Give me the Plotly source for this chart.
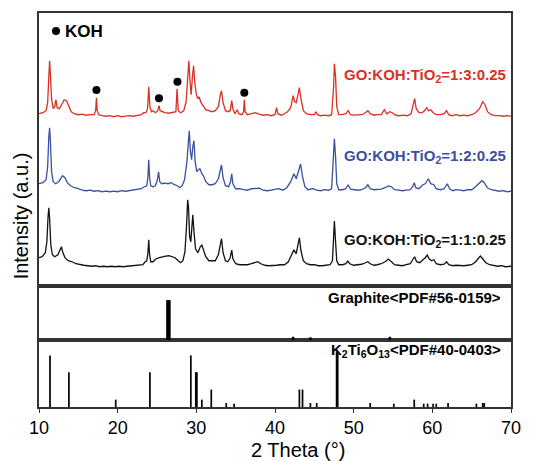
import plotly.graph_objects as go

# ---------------- data ----------------
red_x = [10.0,10.5,10.9,11.1,11.25,11.35,11.45,11.6,11.8,12.0,12.15,12.3,12.6,12.9,13.2,13.5,13.8,14.1,14.5,15.0,15.5,16.0,16.5,17.0,17.2,17.3,17.4,17.6,18.0,18.5,19.0,19.5,20.0,20.5,21.0,21.5,22.0,22.5,23.0,23.3,23.6,23.8,23.95,24.1,24.3,24.5,24.8,25.1,25.25,25.4,25.7,26.0,26.5,27.0,27.4,27.55,27.7,28.0,28.4,28.7,28.95,29.05,29.2,29.35,29.5,29.65,29.8,30.0,30.2,30.35,30.6,30.9,31.2,31.6,32.0,32.4,32.8,33.05,33.2,33.4,33.7,34.0,34.3,34.5,34.65,34.9,35.2,35.4,35.8,36.0,36.1,36.2,36.5,37.0,37.5,38.0,38.5,39.0,39.5,40.0,40.2,40.35,40.8,41.2,41.6,42.0,42.3,42.5,42.7,43.0,43.1,43.3,43.6,44.0,44.5,45.0,45.2,45.4,45.8,46.3,46.8,47.2,47.45,47.55,47.7,47.85,48.1,48.5,49.0,49.3,49.6,50.0,50.5,51.0,51.5,51.8,52.1,52.6,53.0,53.5,53.9,54.2,54.6,54.9,55.3,55.8,56.3,56.8,57.3,57.6,57.75,57.95,58.3,58.7,59.0,59.3,59.5,59.8,60.1,60.5,61.0,61.5,61.8,62.1,62.5,63.0,63.5,64.0,64.5,65.0,65.5,66.0,66.4,66.7,67.0,67.5,68.0,68.5,69.0,69.5,70.0]
red_y = [3,4,6,14,40,56,42,18,8,10,17,9,8,13,17,16,10,5,3,2,2.5,1.5,2,2,6,19,6,2,1,0.5,1,0,1,0,0.5,1,0.5,1.5,2,4,4,8,30,10,5,6,4,6,11,6,5,4,3.5,4,5,28,6,4,6,15,45,56,35,22,40,51,35,22,18,20,14,10,7,6,5,6,10,22,26,14,6,5,6,16,8,3,7,3,2,5,17,5,2,3,4,2.5,1.5,2,1,2,9,3,1.5,3,5,9,21,15,14,25,29,18,6,3,2,2,5,2,1,1.5,1,2,30,53,40,10,2,2,3,6,2,1.5,2,2,4,6,3,1.5,2,2,7,3,5,4,1.5,1,1.5,1,3,12,18,8,4,4,6,9,6,7,4,2,2,3,6,2,1,2,1,1.5,1,2,4,8,15,12,5,2,1,1,0.5,1,0.5]

blue_x = [10.0,10.5,10.9,11.1,11.25,11.35,11.45,11.6,11.8,12.1,12.5,12.8,13.0,13.3,13.6,14.0,14.5,15.0,15.5,16.0,16.5,17.0,17.5,18.0,18.5,19.0,19.5,20.0,20.5,21.0,21.5,22.0,22.5,23.0,23.4,23.7,23.85,23.95,24.05,24.2,24.5,24.8,25.05,25.2,25.35,25.6,26.0,26.4,26.8,27.2,27.6,27.9,28.2,28.5,28.8,29.0,29.1,29.25,29.4,29.55,29.7,29.85,30.05,30.25,30.45,30.7,30.9,31.2,31.6,32.0,32.4,32.8,33.05,33.2,33.4,33.7,34.1,34.35,34.5,34.65,35.0,35.5,36.0,36.5,37.0,37.5,38.0,38.5,39.0,39.5,40.0,40.5,41.0,41.5,42.0,42.4,42.7,43.05,43.25,43.5,43.8,44.2,44.8,45.3,45.8,46.3,46.8,47.2,47.45,47.55,47.7,47.85,48.1,48.6,49.0,49.3,49.6,50.0,50.5,51.0,51.5,51.8,52.1,52.6,53.0,53.5,54.0,54.4,54.8,55.2,55.7,56.2,56.7,57.2,57.5,57.7,57.9,58.3,58.8,59.1,59.5,59.8,60.2,60.5,61.0,61.5,61.9,62.2,62.6,63.0,63.5,64.0,64.5,65.0,65.5,66.0,66.3,66.6,67.0,67.5,68.0,68.5,69.0,69.5,70.0]
blue_y = [8,9,12,25,55,64,50,20,10,8,10,14,16,14,9,6,4,3,1.5,1,1.5,0.5,1,0,0.5,0,0.5,0,1,0.5,1,1.5,2,3,5,6,15,32,15,6,5,6,12,20,10,8,8.5,8,9,7,6,4,6,12,30,55,61,40,32,45,51,30,20,22,23,18,16,10,7,7,8,13,24,26.7,14,6,5,10,18,8,3,3,2,1.5,3,3,3.5,1.5,1,1.5,2,3,1.5,4,10,18,13,23,27.7,15,5,2,3,1.5,1,2,1.5,3,35,53,35,8,2,2,3,7,2.5,2,1.5,2,4,7,3,2,2,2.5,4,5.7,5,2,1.5,1,1.5,2,5,9,4,3,7,8,13,8,7,3,2,3,8,3,1,2,1.5,1,2,2,5,9,11,9,4,2,1,0.5,1,0,0.5]

black_x = [10.0,10.4,10.8,11.0,11.15,11.25,11.35,11.5,11.7,12.0,12.4,12.7,12.85,13.0,13.3,13.7,14.2,14.7,15.2,15.7,16.2,16.7,17.2,17.7,18.2,18.7,19.2,19.7,20.2,20.7,21.2,21.7,22.2,22.7,23.2,23.5,23.7,23.85,23.95,24.05,24.2,24.5,24.9,25.3,25.7,26.1,26.5,26.9,27.3,27.7,28.0,28.3,28.55,28.75,28.9,29.0,29.15,29.3,29.45,29.55,29.7,29.9,30.2,30.5,30.7,30.9,31.2,31.6,32.0,32.4,32.8,33.05,33.2,33.4,33.7,34.0,34.3,34.5,34.65,35.0,35.5,36.0,36.5,37.0,37.5,37.8,38.2,38.7,39.2,39.7,40.2,40.7,41.2,41.7,42.1,42.4,42.7,42.95,43.1,43.3,43.6,44.0,44.5,45.0,45.5,46.0,46.5,47.0,47.3,47.45,47.55,47.7,47.85,48.1,48.6,49.0,49.25,49.5,50.0,50.5,51.0,51.5,51.8,52.1,52.6,53.0,53.5,54.0,54.4,54.8,55.2,55.7,56.2,56.7,57.2,57.5,57.75,58.0,58.4,58.8,59.1,59.35,59.6,59.9,60.2,60.5,61.0,61.5,61.8,62.1,62.6,63.0,63.5,64.0,64.5,65.0,65.5,65.9,66.1,66.4,66.8,67.3,67.8,68.3,68.8,69.3,70.0]
black_y = [9,10,14,25,50,59,48,22,12,10,12,18,20,15,9,6,5,3,2,1.5,1,0.5,1,0,0.5,0,0.5,0,0.5,0,0.5,1,1,1.5,2,5,6,14,27,13,5,5,8,9,10,10.7,11,10,9,6,4,6,15,40,67,60,30,25,48,52,35,18,14,20,21.7,17,10,6,6,6,12,24,28,14,6,5,9,16.7,8,3,2,2,2,3,4.5,5,3,1.5,1,1,1.5,2,2,5,12,17,13,25,29,16,6,3,2,2,1,1,1.5,2,6,35,45.7,25,6,2,2,3,5.7,3,1.5,2,2.5,4,5,3,1.5,2,3,5,7.7,5,2,1.5,1,2,3,7,10,5,4,7,9,11.7,8,6,7,3,2,2.5,5,2,1,1.5,1,1,1.5,2,5,9,10.7,8,4,2,1,0.5,1,0,0.5]

series_names = ["GO:KOH:TiO<sub>2</sub>=1:3:0.25", "GO:KOH:TiO<sub>2</sub>=1:2:0.25", "GO:KOH:TiO<sub>2</sub>=1:1:0.25"]
series_offset = [169.3, 94.3, 19.3]

koh_x = [17.3, 25.25, 27.6, 36.1]
koh_y = [196, 187.7, 204.3, 193.3]

graphite_pos = [26.45, 42.3, 44.5, 54.6]
graphite_int = [0.74, 0.06, 0.05, 0.06]

k2ti_pos = [11.4, 13.8, 19.75, 24.1, 29.3, 30.0, 30.7, 31.9, 33.8, 34.8, 43.1, 43.5, 44.5, 45.3, 47.9, 52.1, 55.1, 57.7, 58.9, 59.4, 60.1, 60.5, 62.0, 65.6, 66.4, 66.6]
k2ti_int = [0.77, 0.52, 0.11, 0.52, 0.77, 0.52, 0.11, 0.26, 0.06, 0.05, 0.26, 0.26, 0.06, 0.06, 0.83, 0.06, 0.05, 0.11, 0.05, 0.05, 0.05, 0.05, 0.06, 0.05, 0.06, 0.06]

x_ticks = [10, 20, 30, 40, 50, 60, 70]

# ---------------- figure ----------------
colors = ["#dc2f22", "#3a4f9f", "#111111"]
FONT = "Liberation Sans, Arial, sans-serif"
fig = go.Figure()

for xs, ys, off, c in zip([red_x, blue_x, black_x], [red_y, blue_y, black_y], series_offset, colors):
    fig.add_trace(go.Scatter(x=xs, y=[v + off for v in ys], mode="lines",
                             line=dict(color=c, width=1.3), xaxis="x3", yaxis="y3",
                             showlegend=False, hoverinfo="skip"))

fig.add_trace(go.Scatter(x=koh_x, y=koh_y, mode="markers",
                         marker=dict(color="black", size=8), xaxis="x3", yaxis="y3",
                         showlegend=False))

def sticks(pos, inten):
    xs, ys = [], []
    for p, h in zip(pos, inten):
        xs += [p, p, None]
        ys += [0, h, None]
    return xs, ys

gx, gy = sticks(graphite_pos[:1], graphite_int[:1])
fig.add_trace(go.Scatter(x=gx, y=gy, mode="lines", line=dict(color="black", width=4.5),
                         xaxis="x2", yaxis="y2", showlegend=False))
gx, gy = sticks(graphite_pos[1:], graphite_int[1:])
fig.add_trace(go.Scatter(x=gx, y=gy, mode="lines", line=dict(color="black", width=2.5),
                         xaxis="x2", yaxis="y2", showlegend=False))

thick = {30.0, 47.9}
kx, ky = sticks([p for p in k2ti_pos if p not in thick], [h for p, h in zip(k2ti_pos, k2ti_int) if p not in thick])
fig.add_trace(go.Scatter(x=kx, y=ky, mode="lines", line=dict(color="black", width=1.7),
                         xaxis="x", yaxis="y", showlegend=False))
kx, ky = sticks([p for p in k2ti_pos if p in thick], [h for p, h in zip(k2ti_pos, k2ti_int) if p in thick])
fig.add_trace(go.Scatter(x=kx, y=ky, mode="lines", line=dict(color="black", width=2.8),
                         xaxis="x", yaxis="y", showlegend=False))

# KOH legend dot
fig.add_trace(go.Scatter(x=[12.16], y=[255], mode="markers", marker=dict(color="black", size=8),
                         xaxis="x3", yaxis="y3", showlegend=False))

frame = dict(showline=True, linecolor="#333333", linewidth=1.5, mirror=True,
             showgrid=False, zeroline=False, automargin=False)

fig.update_layout(
    template="none",
    width=544, height=461,
    margin=dict(l=39, r=33, t=13, b=54, autoexpand=False),
    paper_bgcolor="white", plot_bgcolor="white",
    font=dict(family=FONT, color="black"),
    xaxis=dict(range=[10, 70], tickvals=x_ticks, ticks="outside", ticklen=4,
               tickwidth=1.3, tickcolor="#333333",
               tickfont=dict(size=18, family=FONT), anchor="y", **frame),
    xaxis2=dict(range=[10, 70], matches="x", showticklabels=False, ticks="", anchor="y2", **frame),
    xaxis3=dict(range=[10, 70], matches="x", showticklabels=False, ticks="", anchor="y3", **frame),
    yaxis=dict(domain=[0, 0.170], range=[0, 1], showticklabels=False, ticks="", **frame),
    yaxis2=dict(domain=[0.170, 0.307], range=[0, 1], showticklabels=False, ticks="", **frame),
    yaxis3=dict(domain=[0.307, 1], range=[0, 273], showticklabels=False, ticks="", **frame),
)

ann = []
label_y = [211, 130, 45.3]
for name, c, yy in zip(series_names, colors, label_y):
    ann.append(dict(x=48.5, y=yy, xref="x3", yref="y3", text="<b>" + name + "</b>",
                    showarrow=False, xanchor="left", yanchor="middle",
                    font=dict(size=15, color=c, family=FONT)))
ann.append(dict(x=13.1, y=255, xref="x3", yref="y3", text="<b>KOH</b>", showarrow=False,
                xanchor="left", yanchor="middle", font=dict(size=17, color="black", family=FONT)))
ann.append(dict(x=69.0, y=0.787, xref="x2", yref="y2", text="<b>Graphite&lt;PDF#56-0159&gt;</b>",
                showarrow=False, xanchor="right", yanchor="middle",
                font=dict(size=15, color="black", family=FONT)))
ann.append(dict(x=69.0, y=0.85, xref="x", yref="y",
                text="<b>K<sub>2</sub>Ti<sub>6</sub>O<sub>13</sub>&lt;PDF#40-0403&gt;</b>",
                showarrow=False, xanchor="right", yanchor="middle",
                font=dict(size=15, color="black", family=FONT)))
ann.append(dict(x=-0.038, y=0.484, xref="paper", yref="paper", text="Intensity (a.u.)",
                textangle=-90, showarrow=False, xanchor="center", yanchor="middle",
                font=dict(size=20, color="black", family=FONT)))
ann.append(dict(x=0.549, y=-0.109, xref="paper", yref="paper", text="2 Theta (°)",
                showarrow=False, xanchor="center", yanchor="middle",
                font=dict(size=20, color="black", family=FONT)))
fig.update_layout(annotations=ann)

fig.write_html("out.html", config={"displayModeBar": False},
               post_script="document.body.style.margin='0';document.body.style.padding='0';")
